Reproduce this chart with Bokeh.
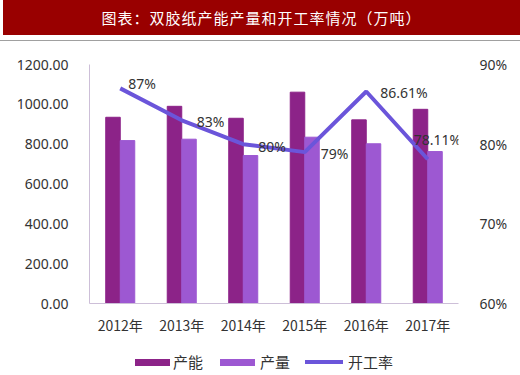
from bokeh.plotting import figure
from bokeh.models import (ColumnDataSource, FactorRange, Range1d, LinearAxis,
                          FixedTicker, PrintfTickFormatter, Div, LabelSet)
from bokeh.layouts import column
from bokeh.transform import dodge
from bokeh.core.properties import value
from bokeh.embed import file_html
from bokeh.resources import INLINE

years = ["2012年", "2013年", "2014年", "2015年", "2016年", "2017年"]
capacity = [935, 990, 930, 1061, 922, 975]
output = [818, 825, 743, 835, 802, 763]
rate = [87, 83, 80, 79, 86.61, 78.11]
rate_labels = ["87%", "83%", "80%", "79%", "86.61%", "78.11%"]
series_names = ["产能", "产量", "开工率"]

# label placement (style)
lbl_dx = [8, 15, 15, 16, 14, -14]
lbl_dy = [5, -1, -2, -1, -1, 20]

title_text = "图表：双胶纸产能产量和开工率情况（万吨）"
CJK = "Noto Sans CJK SC"
NUM = "Noto Sans"
C_CAP, C_OUT, C_RATE = "#8c2388", "#9d58d2", "#6b55da"

src = ColumnDataSource(dict(year=years, cap=capacity, out=output, rate=rate,
                            lbl=rate_labels, dx=lbl_dx, dy=lbl_dy))

title = Div(text=(f'<div style="position:relative;width:520px;height:42px;">'
                  f'<div style="position:absolute;left:3px;top:0;width:517px;height:35px;'
                  f'line-height:35px;background:#990000;color:white;text-align:center;'
                  f'font-family:\'{CJK}\';font-size:15px;letter-spacing:1px;">{title_text}</div>'
                  f'<div style="position:absolute;left:0;top:40px;width:520px;height:0;'
                  f'border-top:1px solid #a0a0a0;"></div></div>'),
            width=520, height=42, margin=(0, 0, 0, 0))

p = figure(x_range=FactorRange(*years, range_padding=0), y_range=Range1d(0, 1200),
           width=520, height=298, output_backend="svg", toolbar_location=None,
           min_border_left=89, min_border_right=62, min_border_top=22, min_border_bottom=37,
           y_axis_location=None, margin=(0, 0, 0, 0))
p.outline_line_color = None
p.xgrid.visible = False
p.ygrid.visible = False
p.extra_y_ranges = {"rate": Range1d(60, 90)}

p.vbar(x=dodge("year", -0.118, range=p.x_range), top="cap", width=0.236, source=src,
       fill_color=C_CAP, line_color=C_CAP)
p.vbar(x=dodge("year", 0.118, range=p.x_range), top="out", width=0.236, source=src,
       fill_color=C_OUT, line_color=C_OUT)
p.line(x="year", y="rate", y_range_name="rate", source=src, line_color=C_RATE, line_width=4)

labels = LabelSet(x="year", y="rate", y_range_name="rate", text="lbl", source=src,
                  x_offset="dx", y_offset="dy", text_font=value(NUM), text_font_size="14px",
                  text_color="#333333", text_baseline="middle", text_align="left")
p.add_layout(labels)

left = LinearAxis(ticker=FixedTicker(ticks=[0, 200, 400, 600, 800, 1000, 1200]),
                  formatter=PrintfTickFormatter(format="%.2f"))
left.axis_line_color = "#cdbfd8"
left.major_tick_line_color = None
left.minor_tick_line_color = None
left.major_label_standoff = 15
left.major_label_text_font = NUM
left.major_label_text_font_size = "14px"
left.major_label_text_color = "#333333"
p.add_layout(left, "left")

right = LinearAxis(y_range_name="rate", ticker=FixedTicker(ticks=[60, 70, 80, 90]),
                   formatter=PrintfTickFormatter(format="%d%%"))
right.axis_line_color = None
right.major_tick_line_color = None
right.minor_tick_line_color = None
right.major_label_standoff = 15
right.major_label_text_font = NUM
right.major_label_text_font_size = "14px"
right.major_label_text_color = "#333333"
p.add_layout(right, "right")

xa = p.xaxis[0]
xa.axis_line_color = "#cdbfd8"
xa.major_tick_line_color = None
xa.minor_tick_line_color = None
xa.major_label_standoff = 5
xa.major_label_text_font = CJK
xa.major_label_text_font_size = "14px"
xa.major_label_text_color = "#333333"

def sw(left_px, w, h, top, color):
    return (f'<div style="position:absolute;left:{left_px}px;top:{top}px;width:{w}px;'
            f'height:{h}px;background:{color};"></div>')

def tx(left_px, t):
    return (f'<div style="position:absolute;left:{left_px}px;top:13px;line-height:18px;'
            f'font-family:\'{CJK}\';font-size:15px;color:#333333;white-space:nowrap;">{t}</div>')

legend_html = ('<div style="position:relative;width:520px;height:35px;">'
               + sw(135, 35, 7, 19, C_CAP) + tx(173, series_names[0])
               + sw(220, 35, 7, 19, C_OUT) + tx(260, series_names[1])
               + sw(305, 38, 4, 20, C_RATE) + tx(348, series_names[2])
               + '</div>')
legend = Div(text=legend_html, width=520, height=35, margin=(0, 0, 0, 0))

layout = column(title, p, legend, spacing=0)
open("out.html", "w").write(file_html(layout, INLINE))
